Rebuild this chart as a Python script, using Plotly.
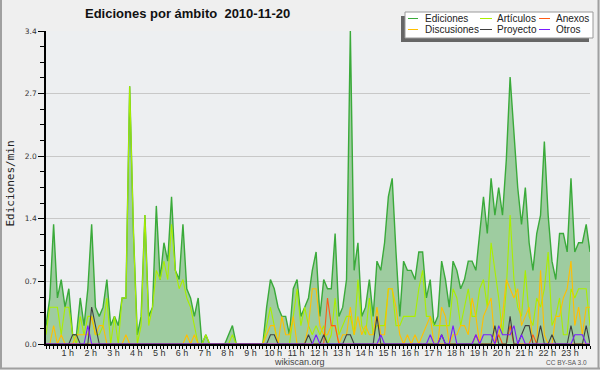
import plotly.graph_objects as go

# ---------------- data (10-minute steps, values in edits/min) ----------------
hours = [i / 6 for i in range(144)]

ediciones = [
    0.2, 0.5, 1.3, 0.5, 0.7, 0.4, 0.6, 0.1, 0.1, 0.5, 0.2, 0.6,
    1.3, 0.4, 0.3, 0.4, 0.7, 0.2, 0.3, 0.2, 0.5, 0.5, 2.8, 1.2,
    0.1, 0.3, 1.4, 0.3, 0.4, 1.5, 0.7, 1.1, 0.9, 1.6, 0.8, 0.7,
    1.3, 0.6, 0.5, 0.3, 0.5, 0.0, 0.1, 0.0, 0.0, 0.0, 0.0, 0.0,
    0.1, 0.2, 0.0, 0.0, 0.0, 0.0, 0.0, 0.0, 0.0, 0.0, 0.4, 0.7,
    0.6, 0.4, 0.3, 0.3, 0.1, 0.6, 0.7, 0.3, 0.4, 0.5, 0.8, 1.0,
    0.3, 0.7, 0.6, 0.6, 1.2, 0.3, 0.4, 0.7, 3.4, 0.8, 1.1, 0.3,
    0.4, 0.7, 0.3, 0.9, 0.8, 1.1, 1.6, 1.8, 1.0, 0.3, 0.9, 0.8,
    0.8, 0.7, 1.0, 1.0, 0.5, 0.7, 0.2, 0.3, 0.9, 0.7, 0.4, 0.9,
    0.8, 0.6, 0.7, 0.9, 0.9, 0.8, 1.2, 1.6, 1.2, 1.8, 1.4, 1.7,
    1.4, 2.0, 2.9, 2.3, 1.7, 1.3, 1.7, 1.1, 0.8, 1.2, 1.4, 2.2,
    1.4, 0.9, 0.7, 1.2, 1.2, 1.0, 1.8, 1.0, 1.1, 1.1, 1.3, 1.0,
]

articulos = [
    0.1, 0.4, 0.4, 0.4, 0.1, 0.4, 0.4, 0.1, 0.0, 0.3, 0.1, 0.3,
    0.3, 0.1, 0.1, 0.2, 0.5, 0.0, 0.3, 0.0, 0.5, 0.5, 2.8, 1.2,
    0.0, 0.2, 1.4, 0.2, 0.4, 0.8, 0.7, 0.9, 0.7, 1.3, 0.8, 0.6,
    0.7, 0.5, 0.4, 0.2, 0.0, 0.0, 0.1, 0.0, 0.0, 0.0, 0.0, 0.0,
    0.0, 0.1, 0.0, 0.0, 0.0, 0.0, 0.0, 0.0, 0.0, 0.0, 0.2, 0.4,
    0.2, 0.0, 0.0, 0.0, 0.0, 0.3, 0.6, 0.2, 0.4, 0.2, 0.1, 0.2,
    0.1, 0.2, 0.0, 0.1, 0.5, 0.1, 0.2, 0.3, 0.3, 0.1, 0.7, 0.2,
    0.1, 0.5, 0.1, 0.2, 0.2, 0.2, 0.6, 0.6, 0.2, 0.2, 0.3, 0.3,
    0.3, 0.3, 0.6, 0.8, 0.3, 0.3, 0.2, 0.2, 0.2, 0.2, 0.2, 0.6,
    0.5, 0.2, 0.4, 0.6, 0.3, 0.3, 0.6, 0.7, 0.4, 1.1, 0.8, 0.5,
    0.1, 0.6, 1.4, 0.7, 0.4, 0.3, 0.8, 0.3, 0.2, 0.5, 0.4, 0.6,
    1.0, 0.2, 0.3, 0.5, 0.1, 0.1, 0.6, 0.5, 0.6, 0.6, 0.6, 0.2,
]

discusiones = [
    0.0, 0.0, 0.2, 0.0, 0.1, 0.0, 0.0, 0.0, 0.1, 0.1, 0.1, 0.1,
    0.3, 0.1, 0.2, 0.2, 0.0, 0.0, 0.0, 0.0, 0.0, 0.1, 0.0, 0.0,
    0.0, 0.0, 0.0, 0.0, 0.0, 0.0, 0.0, 0.0, 0.0, 0.0, 0.0, 0.0,
    0.0, 0.1, 0.0, 0.1, 0.0, 0.0, 0.0, 0.0, 0.0, 0.0, 0.0, 0.0,
    0.0, 0.0, 0.0, 0.0, 0.0, 0.0, 0.0, 0.0, 0.0, 0.0, 0.1, 0.2,
    0.2, 0.0, 0.3, 0.1, 0.1, 0.3, 0.0, 0.0, 0.0, 0.2, 0.6, 0.6,
    0.2, 0.1, 0.1, 0.2, 0.2, 0.0, 0.1, 0.1, 0.4, 0.1, 0.3, 0.1,
    0.2, 0.1, 0.1, 0.4, 0.1, 0.1, 0.6, 0.6, 0.4, 0.1, 0.0, 0.1,
    0.0, 0.1, 0.0, 0.1, 0.2, 0.3, 0.0, 0.0, 0.4, 0.3, 0.0, 0.1,
    0.1, 0.2, 0.2, 0.1, 0.5, 0.3, 0.0, 0.3, 0.4, 0.5, 0.0, 0.1,
    0.3, 0.7, 0.6, 0.5, 0.6, 0.2, 0.3, 0.4, 0.0, 0.0, 0.8, 0.1,
    0.0, 0.0, 0.3, 0.3, 0.5, 0.6, 0.9, 0.2, 0.4, 0.1, 0.4, 0.4,
]

anexos = [
    0.0, 0.0, 0.0, 0.0, 0.0, 0.0, 0.0, 0.0, 0.0, 0.0, 0.0, 0.0,
    0.0, 0.0, 0.0, 0.0, 0.0, 0.0, 0.0, 0.0, 0.0, 0.0, 0.0, 0.0,
    0.0, 0.0, 0.0, 0.0, 0.0, 0.0, 0.0, 0.0, 0.0, 0.0, 0.0, 0.0,
    0.0, 0.0, 0.0, 0.0, 0.0, 0.0, 0.0, 0.0, 0.0, 0.0, 0.0, 0.0,
    0.0, 0.0, 0.0, 0.0, 0.0, 0.0, 0.0, 0.0, 0.0, 0.0, 0.0, 0.0,
    0.0, 0.0, 0.0, 0.0, 0.0, 0.0, 0.0, 0.0, 0.0, 0.0, 0.0, 0.0,
    0.0, 0.0, 0.5, 0.2, 0.2, 0.0, 0.0, 0.0, 0.0, 0.0, 0.0, 0.0,
    0.0, 0.0, 0.0, 0.0, 0.0, 0.0, 0.0, 0.0, 0.0, 0.0, 0.0, 0.0,
    0.0, 0.0, 0.0, 0.0, 0.0, 0.0, 0.0, 0.0, 0.0, 0.0, 0.0, 0.0,
    0.0, 0.0, 0.0, 0.0, 0.0, 0.1, 0.0, 0.0, 0.0, 0.0, 0.0, 0.1,
    0.0, 0.0, 0.2, 0.0, 0.0, 0.0, 0.0, 0.0, 0.1, 0.0, 0.0, 0.0,
    0.0, 0.0, 0.0, 0.0, 0.0, 0.0, 0.0, 0.0, 0.0, 0.0, 0.0, 0.0,
]

proyecto = [
    0.0, 0.0, 0.0, 0.0, 0.0, 0.0, 0.0, 0.1, 0.1, 0.0, 0.0, 0.0,
    0.4, 0.2, 0.0, 0.0, 0.0, 0.0, 0.0, 0.0, 0.0, 0.0, 0.0, 0.0,
    0.0, 0.0, 0.0, 0.0, 0.0, 0.0, 0.0, 0.0, 0.0, 0.0, 0.0, 0.0,
    0.0, 0.0, 0.0, 0.0, 0.0, 0.0, 0.0, 0.0, 0.0, 0.0, 0.0, 0.0,
    0.0, 0.0, 0.0, 0.0, 0.0, 0.0, 0.0, 0.0, 0.0, 0.0, 0.0, 0.1,
    0.1, 0.0, 0.0, 0.0, 0.0, 0.0, 0.0, 0.0, 0.0, 0.1, 0.0, 0.0,
    0.0, 0.1, 0.0, 0.0, 0.0, 0.0, 0.0, 0.1, 0.1, 0.0, 0.0, 0.0,
    0.0, 0.0, 0.0, 0.3, 0.0, 0.0, 0.0, 0.0, 0.0, 0.0, 0.0, 0.0,
    0.0, 0.0, 0.0, 0.0, 0.0, 0.0, 0.0, 0.0, 0.1, 0.0, 0.0, 0.0,
    0.0, 0.0, 0.0, 0.0, 0.0, 0.0, 0.0, 0.0, 0.0, 0.0, 0.2, 0.0,
    0.0, 0.0, 0.3, 0.0, 0.0, 0.1, 0.2, 0.2, 0.0, 0.0, 0.2, 0.0,
    0.0, 0.1, 0.0, 0.0, 0.0, 0.0, 0.2, 0.0, 0.0, 0.0, 0.2, 0.0,
]

otros = [
    0.0, 0.0, 0.0, 0.0, 0.0, 0.0, 0.0, 0.0, 0.0, 0.0, 0.0, 0.2,
    0.0, 0.0, 0.0, 0.0, 0.0, 0.0, 0.0, 0.0, 0.0, 0.0, 0.0, 0.0,
    0.0, 0.0, 0.0, 0.0, 0.0, 0.0, 0.0, 0.0, 0.0, 0.0, 0.0, 0.0,
    0.0, 0.0, 0.0, 0.0, 0.0, 0.0, 0.0, 0.0, 0.0, 0.0, 0.0, 0.0,
    0.0, 0.0, 0.0, 0.0, 0.0, 0.0, 0.0, 0.0, 0.0, 0.0, 0.0, 0.0,
    0.0, 0.0, 0.0, 0.0, 0.0, 0.0, 0.0, 0.0, 0.0, 0.0, 0.0, 0.1,
    0.0, 0.0, 0.0, 0.0, 0.0, 0.0, 0.0, 0.0, 0.0, 0.0, 0.0, 0.0,
    0.0, 0.0, 0.0, 0.0, 0.1, 0.0, 0.0, 0.0, 0.0, 0.0, 0.0, 0.0,
    0.0, 0.0, 0.0, 0.0, 0.0, 0.1, 0.0, 0.0, 0.1, 0.0, 0.0, 0.2,
    0.0, 0.0, 0.0, 0.0, 0.0, 0.1, 0.0, 0.1, 0.1, 0.1, 0.0, 0.2,
    0.1, 0.1, 0.1, 0.2, 0.0, 0.1, 0.0, 0.0, 0.0, 0.0, 0.0, 0.0,
    0.0, 0.0, 0.0, 0.0, 0.0, 0.0, 0.0, 0.1, 0.1, 0.1, 0.0, 0.0,
]

hour_ticks = list(range(1, 24))
hour_labels = [f"{h} h" for h in hour_ticks]
y_ticks = [0, 0.68, 1.36, 2.04, 2.72, 3.4]
y_labels = ["0.0", "0.7", "1.4", "2.0", "2.7", "3.4"]

colors = {
    "Ediciones": "#3aaa3a",
    "Artículos": "#aaee00",
    "Anexos": "#ff5a14",
    "Discusiones": "#ffbf00",
    "Proyecto": "#404040",
    "Otros": "#7a1cff",
}
series = {
    "Artículos": articulos,
    "Anexos": anexos,
    "Discusiones": discusiones,
    "Proyecto": proyecto,
    "Otros": otros,
}

# ---------------- layout geometry (pixels) ----------------
W, H = 600, 370
ML, MR, MT, MB = 46, 10, 31, 26
PW, PH = W - ML - MR, H - MT - MB


def px(x):
    return (x - ML) / PW


def py(y):
    return (H - MB - y) / PH


fig = go.Figure()
fig.add_trace(go.Scatter(
    x=hours, y=ediciones, mode="lines", name="Ediciones",
    line=dict(color=colors["Ediciones"], width=1.4),
    fill="tozeroy", fillcolor="rgba(80,170,80,0.5)", showlegend=False,
))
for nm in ["Artículos", "Discusiones", "Anexos", "Proyecto", "Otros"]:
    fig.add_trace(go.Scatter(
        x=hours, y=series[nm], mode="lines", name=nm,
        line=dict(color=colors[nm], width=1.1), showlegend=False,
    ))

shapes = []
annotations = []

# legend box (manual, 3 columns x 2 rows)
shapes.append(dict(type="rect", xref="paper", yref="paper", layer="above",
                   x0=px(401), x1=px(589), y0=py(42), y1=py(16),
                   fillcolor="#666666", line=dict(width=0)))
shapes.append(dict(type="rect", xref="paper", yref="paper", layer="above",
                   x0=px(405), x1=px(593), y0=py(38), y1=py(12),
                   fillcolor="#ffffff", line=dict(color="#999999", width=1)))
cols = [(408, 418, 424), (480, 492, 496), (539, 550, 555)]
rows = [18.5, 29.5]
legend_grid = [["Ediciones", "Artículos", "Anexos"],
               ["Discusiones", "Proyecto", "Otros"]]
for r, row_names in enumerate(legend_grid):
    for c, nm in enumerate(row_names):
        lx0, lx1, tx = cols[c]
        yy = rows[r]
        shapes.append(dict(type="line", xref="paper", yref="paper", layer="above",
                           x0=px(lx0), x1=px(lx1), y0=py(yy), y1=py(yy),
                           line=dict(color=colors[nm], width=1)))
        annotations.append(dict(xref="paper", yref="paper", x=px(tx), y=py(yy),
                                xanchor="left", yanchor="middle", showarrow=False,
                                text=nm, borderpad=0,
                                font=dict(family="Liberation Sans", size=10, color="#222222")))

# image border
shapes.append(dict(type="line", xref="paper", yref="paper", layer="above",
                   x0=px(1), x1=px(1), y0=py(0), y1=py(369),
                   line=dict(color="#a0a0a0", width=2)))
shapes.append(dict(type="line", xref="paper", yref="paper", layer="above",
                   x0=px(0), x1=px(600), y0=py(368.5), y1=py(368.5),
                   line=dict(color="#a0a0a0", width=2)))
shapes.append(dict(type="line", xref="paper", yref="paper", layer="above",
                   x0=px(598.5), x1=px(598.5), y0=py(0), y1=py(369),
                   line=dict(color="#a0a0a0", width=2)))

# y-axis title, footer texts
annotations.append(dict(xref="paper", yref="paper", x=px(9.5), y=py(184),
                        xanchor="center", yanchor="middle", showarrow=False,
                        textangle=-90, text="Ediciones/min",
                        font=dict(family="DejaVu Sans Mono", size=11, color="#222222")))
annotations.append(dict(xref="paper", yref="paper", x=px(299), y=py(362),
                        xanchor="center", yanchor="middle", showarrow=False,
                        text="wikiscan.org",
                        font=dict(family="Liberation Sans", size=9, color="#444444")))
annotations.append(dict(xref="paper", yref="paper", x=px(589), y=py(362.5),
                        xanchor="right", yanchor="middle", showarrow=False,
                        text="CC BY-SA 3.0",
                        font=dict(family="Liberation Sans", size=6.5, color="#555555")))

fig.update_layout(
    width=W, height=H,
    margin=dict(l=ML, r=MR, t=MT, b=MB, pad=0),
    paper_bgcolor="#efefef",
    plot_bgcolor="#edeff1",
    title=dict(text="<b>Ediciones por ámbito  2010-11-20</b>",
               xref="container", yref="container",
               x=85 / W, xanchor="left", y=1 - 13.5 / H, yanchor="middle",
               font=dict(family="Liberation Sans", size=13, color="#111111")),
    shapes=shapes,
    annotations=annotations,
    showlegend=False,
    xaxis=dict(
        range=[0, 143 / 6], tickmode="array", tickvals=hour_ticks, ticktext=hour_labels,
        showgrid=False, zeroline=False, showline=True, linecolor="#000000", linewidth=1.5,
        ticks="outside", ticklen=3, tickwidth=1, tickcolor="#000000",
        tickfont=dict(family="Liberation Sans", size=9, color="#333333"),
        ticklabelstandoff=-4, ticklabelshift=-1,
        minor=dict(tick0=0, dtick=1 / 6, ticks="outside", ticklen=3, tickwidth=1,
                   tickcolor="#000000", showgrid=False),
        fixedrange=True,
    ),
    yaxis=dict(
        range=[0, 3.4], tickmode="array", tickvals=y_ticks, ticktext=y_labels,
        showgrid=True, gridcolor="#c8c8c8", gridwidth=1, zeroline=False,
        showline=True, linecolor="#000000", linewidth=1.5,
        ticks="outside", ticklen=6, tickwidth=1, tickcolor="#000000",
        tickfont=dict(family="DejaVu Sans", size=7.5, color="#333333"),
        minor=dict(tick0=0, dtick=0.17, ticks="outside", ticklen=4, tickwidth=1,
                   tickcolor="#000000", showgrid=False),
        fixedrange=True,
    ),
)

fig.write_html("out.html", config={"displayModeBar": False},
               post_script="document.body.style.margin='0';document.body.style.padding='0';")
